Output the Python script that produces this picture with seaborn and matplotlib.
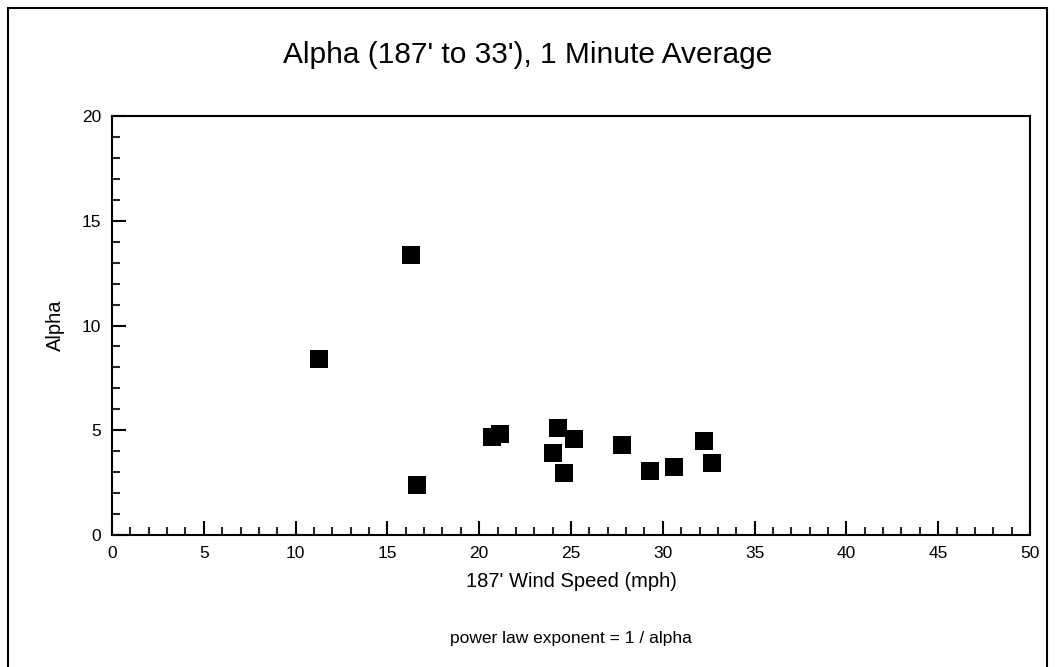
import matplotlib
matplotlib.use("Agg")
import matplotlib.pyplot as plt
import seaborn as sns
import pandas as pd
from matplotlib.ticker import MultipleLocator
from matplotlib.patches import Rectangle

wind_speed = [11.26, 16.29, 16.6, 20.72, 21.15, 24.0, 24.31, 24.63, 25.16, 27.79, 29.30, 30.63, 32.26, 32.70]
alpha = [8.40, 13.37, 2.39, 4.69, 4.82, 3.93, 5.11, 2.96, 4.58, 4.30, 3.07, 3.25, 4.50, 3.44]

df = pd.DataFrame({"ws": wind_speed, "alpha": alpha})

sns.set_style("white")
plt.rcParams['font.family'] = ['Liberation Sans', 'DejaVu Sans']
plt.rcParams['text.color'] = 'black'
plt.rcParams['axes.labelcolor'] = 'black'

fig = plt.figure(figsize=(10.56, 6.67), dpi=100)
W, H = 1056, 667
ax = fig.add_axes([112 / W, 1 - 535 / H, (1030 - 112) / W, (535 - 116) / H])

sns.scatterplot(data=df, x="ws", y="alpha", marker="s", s=150, color="black",
                edgecolor="black", linewidth=0, ax=ax)

ax.set_xlim(0, 50)
ax.set_ylim(0, 20)
ax.xaxis.set_major_locator(MultipleLocator(5))
ax.xaxis.set_minor_locator(MultipleLocator(1))
ax.yaxis.set_major_locator(MultipleLocator(5))
ax.yaxis.set_minor_locator(MultipleLocator(1))
ax.tick_params(axis="both", which="major", direction="in", length=10, width=1.5,
               labelsize=12.5, colors="black", pad=8, bottom=True, left=True, top=False, right=False)
ax.tick_params(axis="both", which="minor", direction="in", length=6, width=1.5,
               bottom=True, left=True, top=False, right=False)
for sp in ax.spines.values():
    sp.set_visible(True)
    sp.set_linewidth(1.5)
    sp.set_color("black")

ax.set_xlabel("187' Wind Speed (mph)", fontsize=14.5, labelpad=8)
ax.set_ylabel("Alpha", fontsize=14.5, labelpad=12)

fig.text(0.5, 1 - 55 / H, "Alpha (187' to 33'), 1 Minute Average", ha="center", va="center", fontsize=21.5)
fig.text(571 / W, 1 - 638 / H, "power law exponent = 1 / alpha", ha="center", va="center", fontsize=12.5)

fig.patches.append(Rectangle((8 / W, -0.01), (1047 - 8) / W, 1 - 8 / H + 0.01,
                             transform=fig.transFigure, fill=False, edgecolor="black", linewidth=1.5))

fig.savefig("out.png", dpi=100)
